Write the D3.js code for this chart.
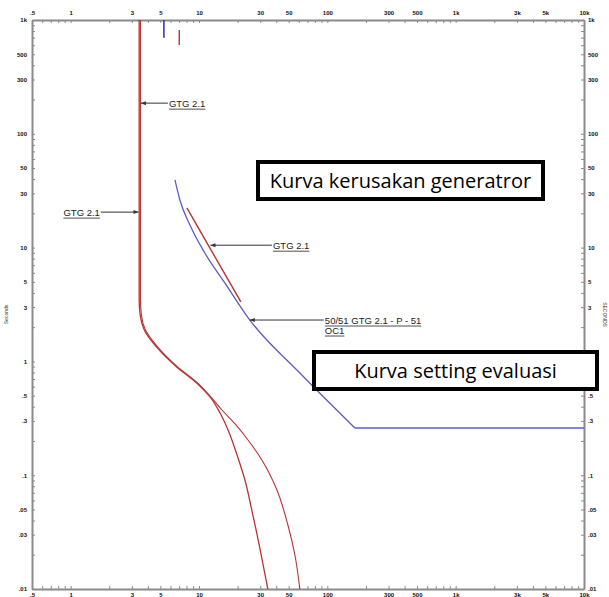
<!DOCTYPE html>
<html>
<head>
<meta charset="utf-8">
<script src="https://cdn.jsdelivr.net/npm/d3@7"></script>
<style>
  html, body { margin: 0; padding: 0; background: #fff; }
  svg { display: block; }
</style>
</head>
<body>
<svg id="chart" width="609" height="597"></svg>
<script>
// Time-current coordination plot: current (amps) vs time (seconds), log-log.

// Axis tick labels
const xLabelValues = [0.5, 1, 3, 5, 10, 30, 50, 100, 300, 500, 1000, 3000, 5000, 10000];
const xLabelTexts  = [".5", "1", "3", "5", "10", "30", "50", "100", "300", "500", "1k", "3k", "5k", "10k"];
const yLabelValues = [0.01, 0.03, 0.05, 0.1, 0.3, 0.5, 1, 3, 5, 10, 30, 50, 100, 300, 500, 1000];
const yLabelTexts  = [".01", ".03", ".05", ".1", ".3", ".5", "1", "3", "5", "10", "30", "50", "100", "300", "500", "1k"];

// GTG 2.1 curves [amps, seconds]
const gtgCurveA = [[3.42, 1000], [3.42, 3.46], [3.48, 2.56], [3.75, 1.89], [4.66, 1.34], [6.70, 0.893],
                   [9.60, 0.646], [12.2, 0.487], [14.6, 0.352], [17.1, 0.240], [19.8, 0.1505],
                   [22.8, 0.0908], [25.8, 0.0494], [29.8, 0.0229], [34.4, 0.01]];
const gtgCurveB = [[3.50, 1000], [3.50, 3.50], [3.56, 2.56], [3.82, 1.90], [4.74, 1.35], [6.78, 0.90],
                   [9.70, 0.65], [12.3, 0.49], [15.1, 0.374], [19.1, 0.282], [24.1, 0.204],
                   [30.9, 0.136], [40.5, 0.0741], [49.3, 0.0365], [55.9, 0.0199], [61.1, 0.01]];
const gtgShortLine = [[8.05, 22.3], [21.2, 3.33]];
const gtgInstTop   = [[7.02, 817], [7.02, 603]];

// 50/51 GTG 2.1 - P - 51 OC1 relay curve
const relayInverse  = [[6.5, 39.3], [7.1, 26.2], [8.5, 15.8], [11.1, 8.97], [15.9, 4.89], [24.9, 2.31], [61.1, 0.79], [164, 0.26]];
const relayDefinite = [[164, 0.26], [10000, 0.26]];
const relayInstTop  = [[5.33, 1000], [5.33, 699]];

// Callouts: arrow tip at [amps, seconds], label anchored at labelAmps
const callouts = [
  { lines: ["GTG 2.1"], tip: [3.53, 186], labelAmps: 5.83, side: "right" },
  { lines: ["GTG 2.1"], tip: [3.38, 20.5], labelAmps: 1.69, side: "left" },
  { lines: ["GTG 2.1"], tip: [12.3, 10.5], labelAmps: 37.7, side: "right" },
  { lines: ["50/51 GTG 2.1 - P - 51", "OC1"], tip: [24.9, 2.31], labelAmps: 95.7, side: "right" }
];

// Boxed notes
const notes = [
  { text: "Kurva kerusakan generatror", box: [258, 162, 285, 37] },
  { text: "Kurva setting evaluasi", box: [314, 352, 283, 37] }
];

const svg = d3.select("#chart");
const mLeft = 32, mRight = 584, mTop = 20, mBottom = 589;
const x = d3.scaleLog().domain([0.5, 10000]).range([mLeft, mRight]);
const y = d3.scaleLog().domain([0.01, 1000]).range([mBottom, mTop]);

// all 1..9 multiples per decade
function logTicks(lo, hi) {
  const t = [];
  for (let e = -3; e <= 5; e++) {
    for (let m = 1; m <= 9; m++) {
      const v = +(m * Math.pow(10, e)).toPrecision(6);
      if (v >= lo - 1e-12 && v <= hi + 1e-12) t.push(v);
    }
  }
  return t;
}
const xTicks = logTicks(0.5, 10000);
const yTicks = logTicks(0.01, 1000);
const near = (a, b) => Math.abs(Math.log10(a) - Math.log10(b)) < 1e-6;
const xFmt = v => { const i = xLabelValues.findIndex(l => near(l, v)); return i >= 0 ? xLabelTexts[i] : ""; };
const yFmt = v => { const i = yLabelValues.findIndex(l => near(l, v)); return i >= 0 ? yLabelTexts[i] : ""; };

const axisColor = "#8a8a8a";
function styleAxis(g) {
  g.select(".domain").attr("stroke", axisColor).attr("stroke-width", 2);
  g.selectAll(".tick line").attr("stroke", axisColor).attr("stroke-width", 1);
  g.selectAll(".tick text").attr("fill", "#111").attr("font-size", 6).attr("font-weight", "bold")
    .attr("font-family", "Liberation Sans, Arial, sans-serif");
}

svg.append("g").attr("transform", `translate(0,${mTop})`)
  .call(d3.axisTop(x).tickValues(xTicks).tickFormat(xFmt).tickSize(-3).tickSizeOuter(0).tickPadding(5))
  .call(styleAxis);
svg.append("g").attr("transform", `translate(0,${mBottom})`)
  .call(d3.axisBottom(x).tickValues(xTicks).tickFormat(xFmt).tickSize(-3).tickSizeOuter(0).tickPadding(4))
  .call(styleAxis);
svg.append("g").attr("transform", `translate(${mLeft},0)`)
  .call(d3.axisLeft(y).tickValues(yTicks).tickFormat(yFmt).tickSize(-3).tickSizeOuter(0).tickPadding(5))
  .call(styleAxis);
svg.append("g").attr("transform", `translate(${mRight},0)`)
  .call(d3.axisRight(y).tickValues(yTicks).tickFormat(yFmt).tickSize(-3).tickSizeOuter(0).tickPadding(4))
  .call(styleAxis);

// axis titles
const font = "Liberation Sans, Arial, sans-serif";
svg.append("text").attr("transform", `translate(8,${(mTop + mBottom) / 2 + 10}) rotate(-90)`)
  .attr("text-anchor", "middle").attr("font-size", 5).attr("fill", "#333")
  .attr("font-family", font).text("Seconds");
svg.append("text").attr("transform", `translate(603,${(mTop + mBottom) / 2 + 10}) rotate(90)`)
  .attr("text-anchor", "middle").attr("font-size", 5).attr("fill", "#333")
  .attr("font-family", font).text("SECONDS");

const red = "#b83333", blue = "#5c5cc8", darkBlue = "#2a2ab8";
const lineMonoY = d3.line().x(d => x(d[0])).y(d => y(d[1])).curve(d3.curveMonotoneY);
const lineMonoX = d3.line().x(d => x(d[0])).y(d => y(d[1])).curve(d3.curveMonotoneX);
const lineLin = d3.line().x(d => x(d[0])).y(d => y(d[1]));

const plot = svg.append("g");
plot.append("path").attr("d", lineMonoY(gtgCurveA)).attr("fill", "none").attr("stroke", red).attr("stroke-width", 1.3);
plot.append("path").attr("d", lineMonoY(gtgCurveB)).attr("fill", "none").attr("stroke", red).attr("stroke-width", 1.1);
plot.append("path").attr("d", lineLin(gtgShortLine)).attr("fill", "none").attr("stroke", red).attr("stroke-width", 1.4);
plot.append("path").attr("d", lineLin(gtgInstTop)).attr("fill", "none").attr("stroke", red).attr("stroke-width", 1.4);
plot.append("path").attr("d", lineMonoX(relayInverse)).attr("fill", "none").attr("stroke", blue).attr("stroke-width", 1.3);
plot.append("path").attr("d", lineLin(relayDefinite)).attr("fill", "none").attr("stroke", blue).attr("stroke-width", 1.3);
plot.append("path").attr("d", lineLin(relayInstTop)).attr("fill", "none").attr("stroke", darkBlue).attr("stroke-width", 1.5);

// callouts
callouts.forEach(c => {
  const tx = x(c.tip[0]), ty = y(c.tip[1]);
  const lx = x(c.labelAmps);
  const g = svg.append("g");
  const endX = c.side === "right" ? lx - 1 : lx + 1;
  g.append("line").attr("x1", tx).attr("y1", ty).attr("x2", endX).attr("y2", ty)
    .attr("stroke", "#333").attr("stroke-width", 1);
  const dir = c.side === "right" ? 1 : -1;
  g.append("path")
    .attr("d", `M${tx},${ty} L${tx + dir * 5},${ty - 2} L${tx + dir * 5},${ty + 2} Z`)
    .attr("fill", "#333");
  c.lines.forEach((t, i) => {
    const text = g.append("text").attr("x", lx).attr("y", ty + 4 + i * 10)
      .attr("text-anchor", c.side === "right" ? "start" : "end")
      .attr("font-size", 9.5).attr("font-family", font).attr("fill", "#222").text(t);
    const w = text.node().getComputedTextLength();
    const ux0 = c.side === "right" ? lx : lx - w;
    g.append("line").attr("x1", ux0).attr("x2", ux0 + w)
      .attr("y1", ty + 6 + i * 10).attr("y2", ty + 6 + i * 10)
      .attr("stroke", "#222").attr("stroke-width", 0.8);
  });
});

// boxed notes
notes.forEach(n => {
  const [bx, by, bw, bh] = n.box;
  svg.append("rect").attr("x", bx).attr("y", by).attr("width", bw).attr("height", bh)
    .attr("fill", "#fff").attr("stroke", "#000").attr("stroke-width", 4);
  svg.append("text").attr("x", bx + bw / 2).attr("y", by + bh / 2 + 7)
    .attr("text-anchor", "middle").attr("font-size", 20).attr("font-family", "Open Sans, sans-serif")
    .attr("fill", "#000").text(n.text);
});
</script>
</body>
</html>
